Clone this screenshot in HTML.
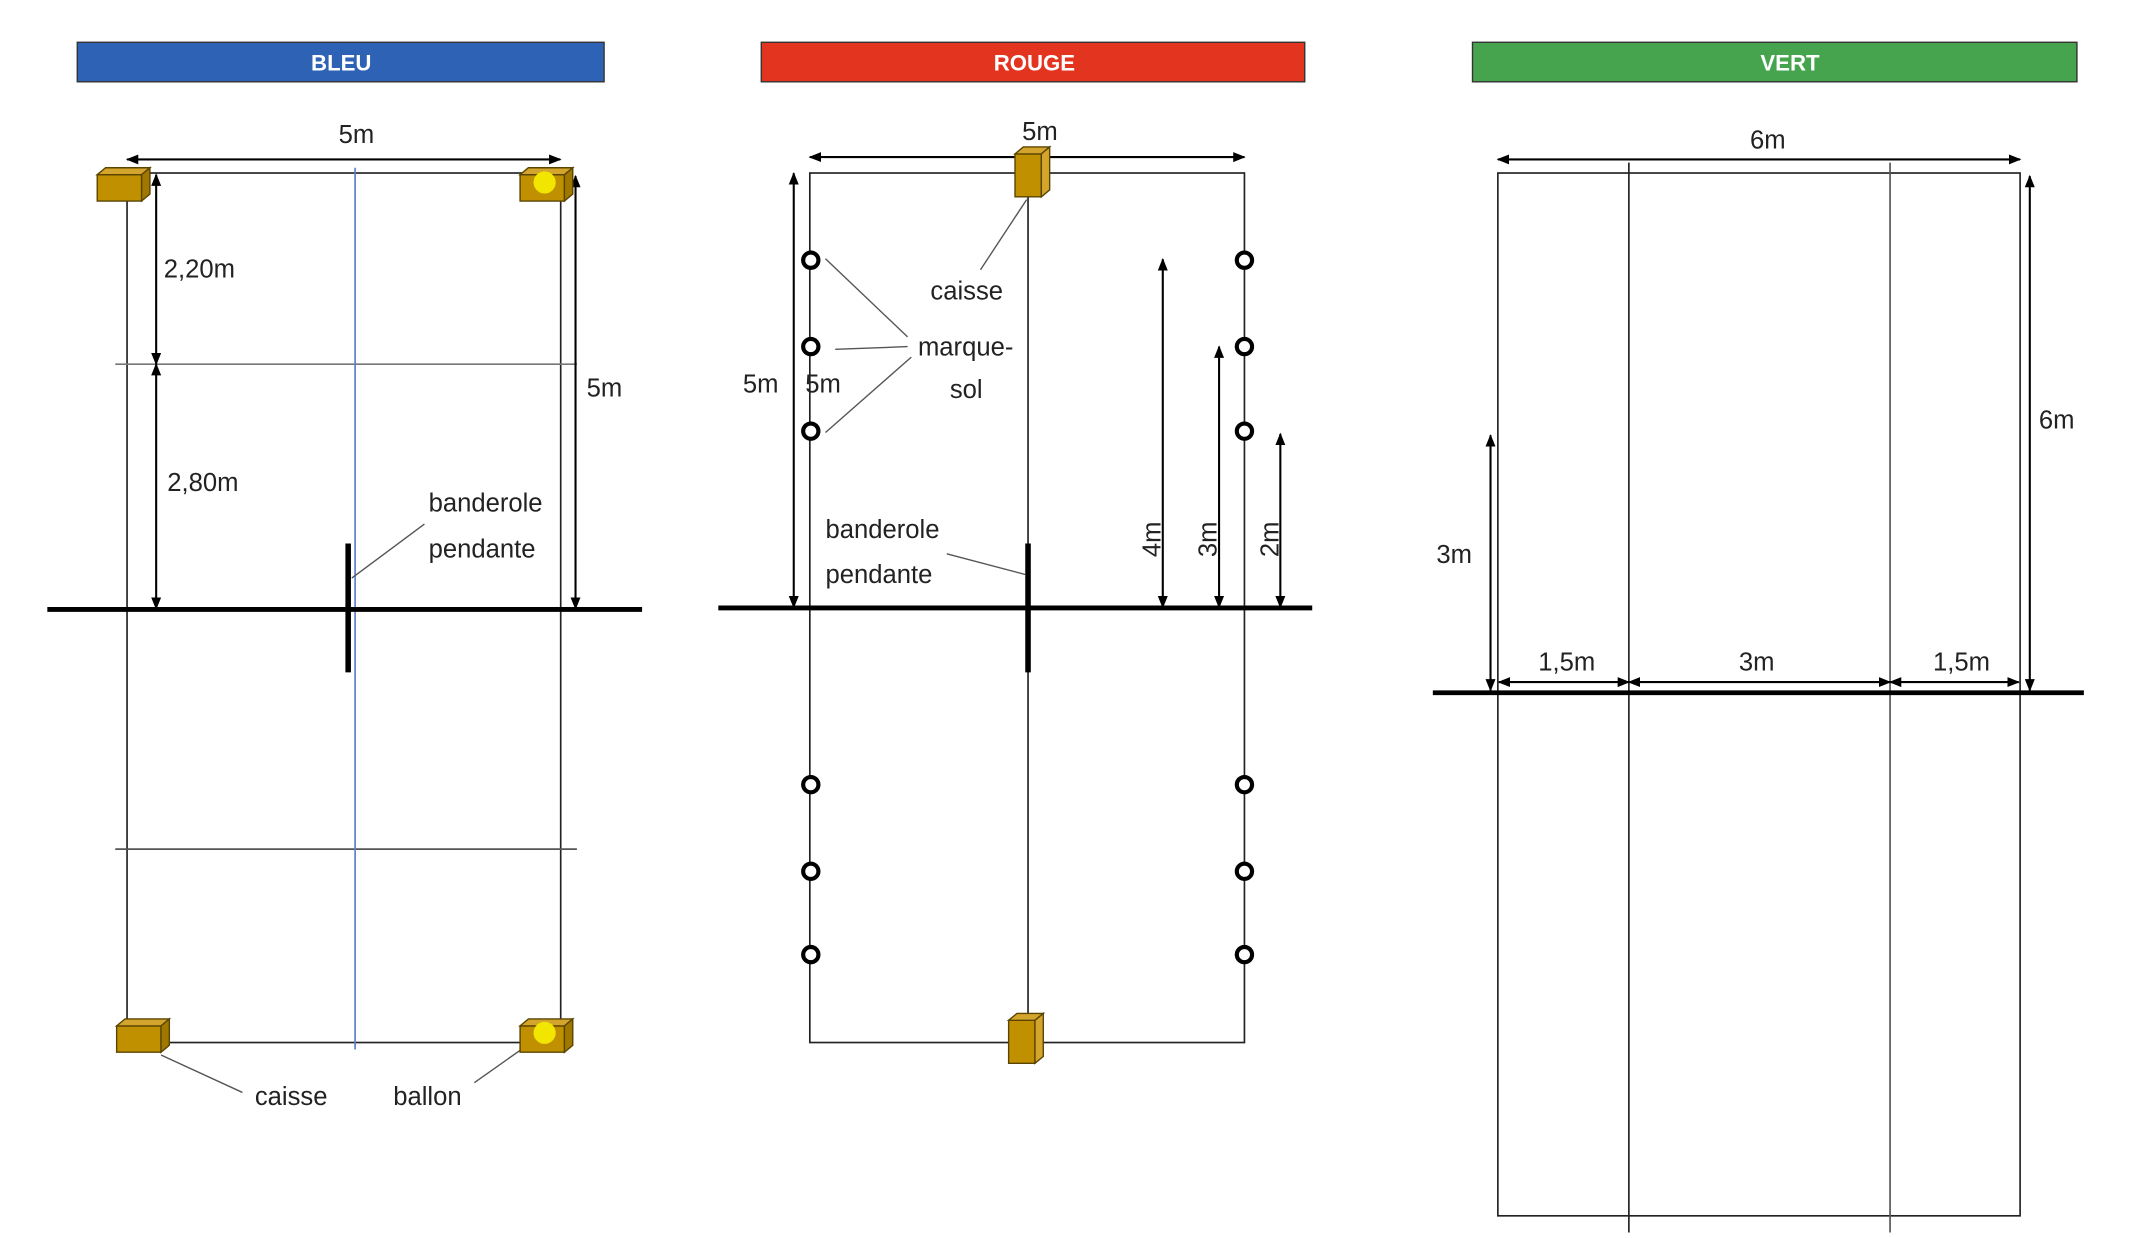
<!DOCTYPE html>
<html><head><meta charset="utf-8"><style>
html,body{margin:0;padding:0;background:#fff;}
svg{display:block;}
text{font-family:"Liberation Sans",sans-serif;fill:#222;font-size:18.5px;}
.h{fill:#fff;font-weight:bold;font-size:16px;text-anchor:middle;}
</style></head><body>
<svg width="2152" height="1238" viewBox="0 0 1552 893" xmlns="http://www.w3.org/2000/svg">
<defs>
<marker id="a" viewBox="0 0 10 10" refX="9" refY="5" markerWidth="9" markerHeight="9" orient="auto-start-reverse" markerUnits="userSpaceOnUse"><path d="M0,1 L10,5 L0,9 z" fill="#000"/></marker>
<g id="box"><path d="M0,0 h32 v19 h-32z" fill="#C09000" stroke="#5a4500" stroke-width="1"/><path d="M0,0 l6,-5 h32 l-6,5z" fill="#D4A52C" stroke="#5a4500" stroke-width="1"/><path d="M32,0 l6,-5 v19 l-6,5z" fill="#A07800" stroke="#5a4500" stroke-width="1"/></g>
<g id="tbox"><path d="M0,0 h19 v31 h-19z" fill="#C09000" stroke="#5a4500" stroke-width="1"/><path d="M0,0 l6,-5 h19 l-6,5z" fill="#D4A52C" stroke="#5a4500" stroke-width="1"/><path d="M19,0 l6,-5 v31 l-6,5z" fill="#D4A52C" stroke="#5a4500" stroke-width="1"/></g>
</defs>

<rect x="55.6" y="30.5" width="380" height="28.5" fill="#2D62B5" stroke="#333" stroke-width="1"/>
<text class="h" x="246" y="51">BLEU</text>
<rect x="549" y="30.5" width="392" height="28.5" fill="#E33420" stroke="#333" stroke-width="1"/>
<text class="h" x="746" y="51">ROUGE</text>
<rect x="1062" y="30.5" width="436" height="28.5" fill="#47A44E" stroke="#333" stroke-width="1"/>
<text class="h" x="1291" y="51">VERT</text>

<g stroke="#222" fill="none">
<rect x="91.5" y="124.8" width="312.8" height="627.2" stroke-width="1.2"/>
<line x1="83" y1="262.7" x2="416" y2="262.7" stroke="#777" stroke-width="1.2"/>
<line x1="83" y1="612.5" x2="416" y2="612.5" stroke="#555" stroke-width="1.2"/>
<line x1="256" y1="121" x2="256" y2="757" stroke="#5C7FC8" stroke-width="1.2"/>
<line x1="34" y1="439.6" x2="463" y2="439.6" stroke="#000" stroke-width="3.5"/>
<line x1="251" y1="392" x2="251" y2="485" stroke="#000" stroke-width="4"/>
<line x1="91.5" y1="115" x2="404" y2="115" stroke="#000" stroke-width="1.5" marker-start="url(#a)" marker-end="url(#a)"/>
<line x1="112.5" y1="126" x2="112.5" y2="262.7" stroke="#000" stroke-width="1.5" marker-start="url(#a)" marker-end="url(#a)"/>
<line x1="112.5" y1="262.7" x2="112.5" y2="439" stroke="#000" stroke-width="1.5" marker-start="url(#a)" marker-end="url(#a)"/>
<line x1="415" y1="127" x2="415" y2="439" stroke="#000" stroke-width="1.5" marker-start="url(#a)" marker-end="url(#a)"/>
<line x1="306" y1="378" x2="253.6" y2="417" stroke="#555" stroke-width="1"/>
<line x1="116" y1="761" x2="174.7" y2="788" stroke="#555" stroke-width="1"/>
<line x1="342" y1="781" x2="390" y2="747" stroke="#555" stroke-width="1"/>
</g>
<use href="#box" x="70" y="126"/>
<use href="#box" x="375" y="126"/><circle cx="392.7" cy="131.6" r="8" fill="#F2E600"/>
<use href="#box" x="84" y="740"/>
<use href="#box" x="375" y="740"/><circle cx="392.7" cy="745" r="8" fill="#F2E600"/>
<text x="257" y="103" text-anchor="middle">5m</text>
<text x="118" y="200">2,20m</text>
<text x="120.5" y="354">2,80m</text>
<text x="423" y="286">5m</text>
<text x="309" y="369">banderole</text>
<text x="309" y="402">pendante</text>
<text x="183.7" y="797">caisse</text>
<text x="283.5" y="797">ballon</text>

<g stroke="#222" fill="none">
<rect x="584" y="124.8" width="313.5" height="627.2" stroke-width="1.2"/>
<line x1="741.4" y1="140" x2="741.4" y2="740" stroke-width="1.2"/>
<line x1="518" y1="438.5" x2="946.4" y2="438.5" stroke="#000" stroke-width="3.5"/>
<line x1="741.4" y1="392" x2="741.4" y2="485" stroke="#000" stroke-width="4"/>
<line x1="584" y1="113.3" x2="897.5" y2="113.3" stroke="#000" stroke-width="1.5" marker-start="url(#a)" marker-end="url(#a)"/>
<line x1="572.4" y1="125" x2="572.4" y2="438" stroke="#000" stroke-width="1.5" marker-start="url(#a)" marker-end="url(#a)"/>
<line x1="838.6" y1="187" x2="838.6" y2="438" stroke="#000" stroke-width="1.5" marker-start="url(#a)" marker-end="url(#a)"/>
<line x1="879.2" y1="250" x2="879.2" y2="438" stroke="#000" stroke-width="1.5" marker-start="url(#a)" marker-end="url(#a)"/>
<line x1="923.4" y1="313" x2="923.4" y2="438" stroke="#000" stroke-width="1.5" marker-start="url(#a)" marker-end="url(#a)"/>
<line x1="595.3" y1="186.6" x2="654.5" y2="243" stroke="#555" stroke-width="1"/>
<line x1="602.3" y1="252" x2="654.5" y2="250" stroke="#555" stroke-width="1"/>
<line x1="595.3" y1="312" x2="657.2" y2="257.6" stroke="#555" stroke-width="1"/>
<line x1="707.1" y1="194.6" x2="740.4" y2="144" stroke="#555" stroke-width="1"/>
<line x1="682.8" y1="399.5" x2="739.4" y2="414.4" stroke="#555" stroke-width="1"/>
</g>
<g fill="#fff" stroke="#000" stroke-width="3">
<circle cx="584.7" cy="187.7" r="5.5"/><circle cx="584.7" cy="250" r="5.5"/><circle cx="584.7" cy="311" r="5.5"/>
<circle cx="584.7" cy="566" r="5.5"/><circle cx="584.7" cy="628.5" r="5.5"/><circle cx="584.7" cy="688.6" r="5.5"/>
<circle cx="897.5" cy="187.7" r="5.5"/><circle cx="897.5" cy="250" r="5.5"/><circle cx="897.5" cy="311" r="5.5"/>
<circle cx="897.5" cy="566" r="5.5"/><circle cx="897.5" cy="628.5" r="5.5"/><circle cx="897.5" cy="688.6" r="5.5"/>
</g>
<use href="#tbox" x="732" y="111"/>
<use href="#tbox" x="727.4" y="736"/>
<text x="750" y="101" text-anchor="middle">5m</text>
<text x="535.7" y="283">5m</text>
<text x="580.7" y="283">5m</text>
<text x="662" y="256.4">marque-</text>
<text x="685" y="287">sol</text>
<text x="671" y="216">caisse</text>
<text x="595.3" y="388">banderole</text>
<text x="595.3" y="420.7">pendante</text>
<text transform="translate(837,389) rotate(-90)" text-anchor="middle">4m</text>
<text transform="translate(877.5,389) rotate(-90)" text-anchor="middle">3m</text>
<text transform="translate(922,389) rotate(-90)" text-anchor="middle">2m</text>

<g stroke="#222" fill="none">
<rect x="1080.3" y="124.8" width="376.7" height="752.2" stroke-width="1.2"/>
<line x1="1174.8" y1="117.3" x2="1174.8" y2="889" stroke-width="1.2"/>
<line x1="1363.2" y1="117.3" x2="1363.2" y2="889" stroke="#555" stroke-width="1.2"/>
<line x1="1033.4" y1="499.7" x2="1503" y2="499.7" stroke="#000" stroke-width="3.5"/>
<line x1="1080.3" y1="115" x2="1457" y2="115" stroke="#000" stroke-width="1.5" marker-start="url(#a)" marker-end="url(#a)"/>
<line x1="1464" y1="127" x2="1464" y2="498" stroke="#000" stroke-width="1.5" marker-start="url(#a)" marker-end="url(#a)"/>
<line x1="1075" y1="314" x2="1075" y2="498" stroke="#000" stroke-width="1.5" marker-start="url(#a)" marker-end="url(#a)"/>
<line x1="1081" y1="492" x2="1174.8" y2="492" stroke="#000" stroke-width="1.5" marker-start="url(#a)" marker-end="url(#a)"/>
<line x1="1174.8" y1="492" x2="1363.2" y2="492" stroke="#000" stroke-width="1.5" marker-start="url(#a)" marker-end="url(#a)"/>
<line x1="1363.2" y1="492" x2="1456" y2="492" stroke="#000" stroke-width="1.5" marker-start="url(#a)" marker-end="url(#a)"/>
</g>
<text x="1275" y="107" text-anchor="middle">6m</text>
<text x="1470.6" y="309">6m</text>
<text x="1036" y="406">3m</text>
<text x="1130" y="483.7" text-anchor="middle">1,5m</text>
<text x="1267" y="483.7" text-anchor="middle">3m</text>
<text x="1414.7" y="483.7" text-anchor="middle">1,5m</text>
</svg>
</body></html>
